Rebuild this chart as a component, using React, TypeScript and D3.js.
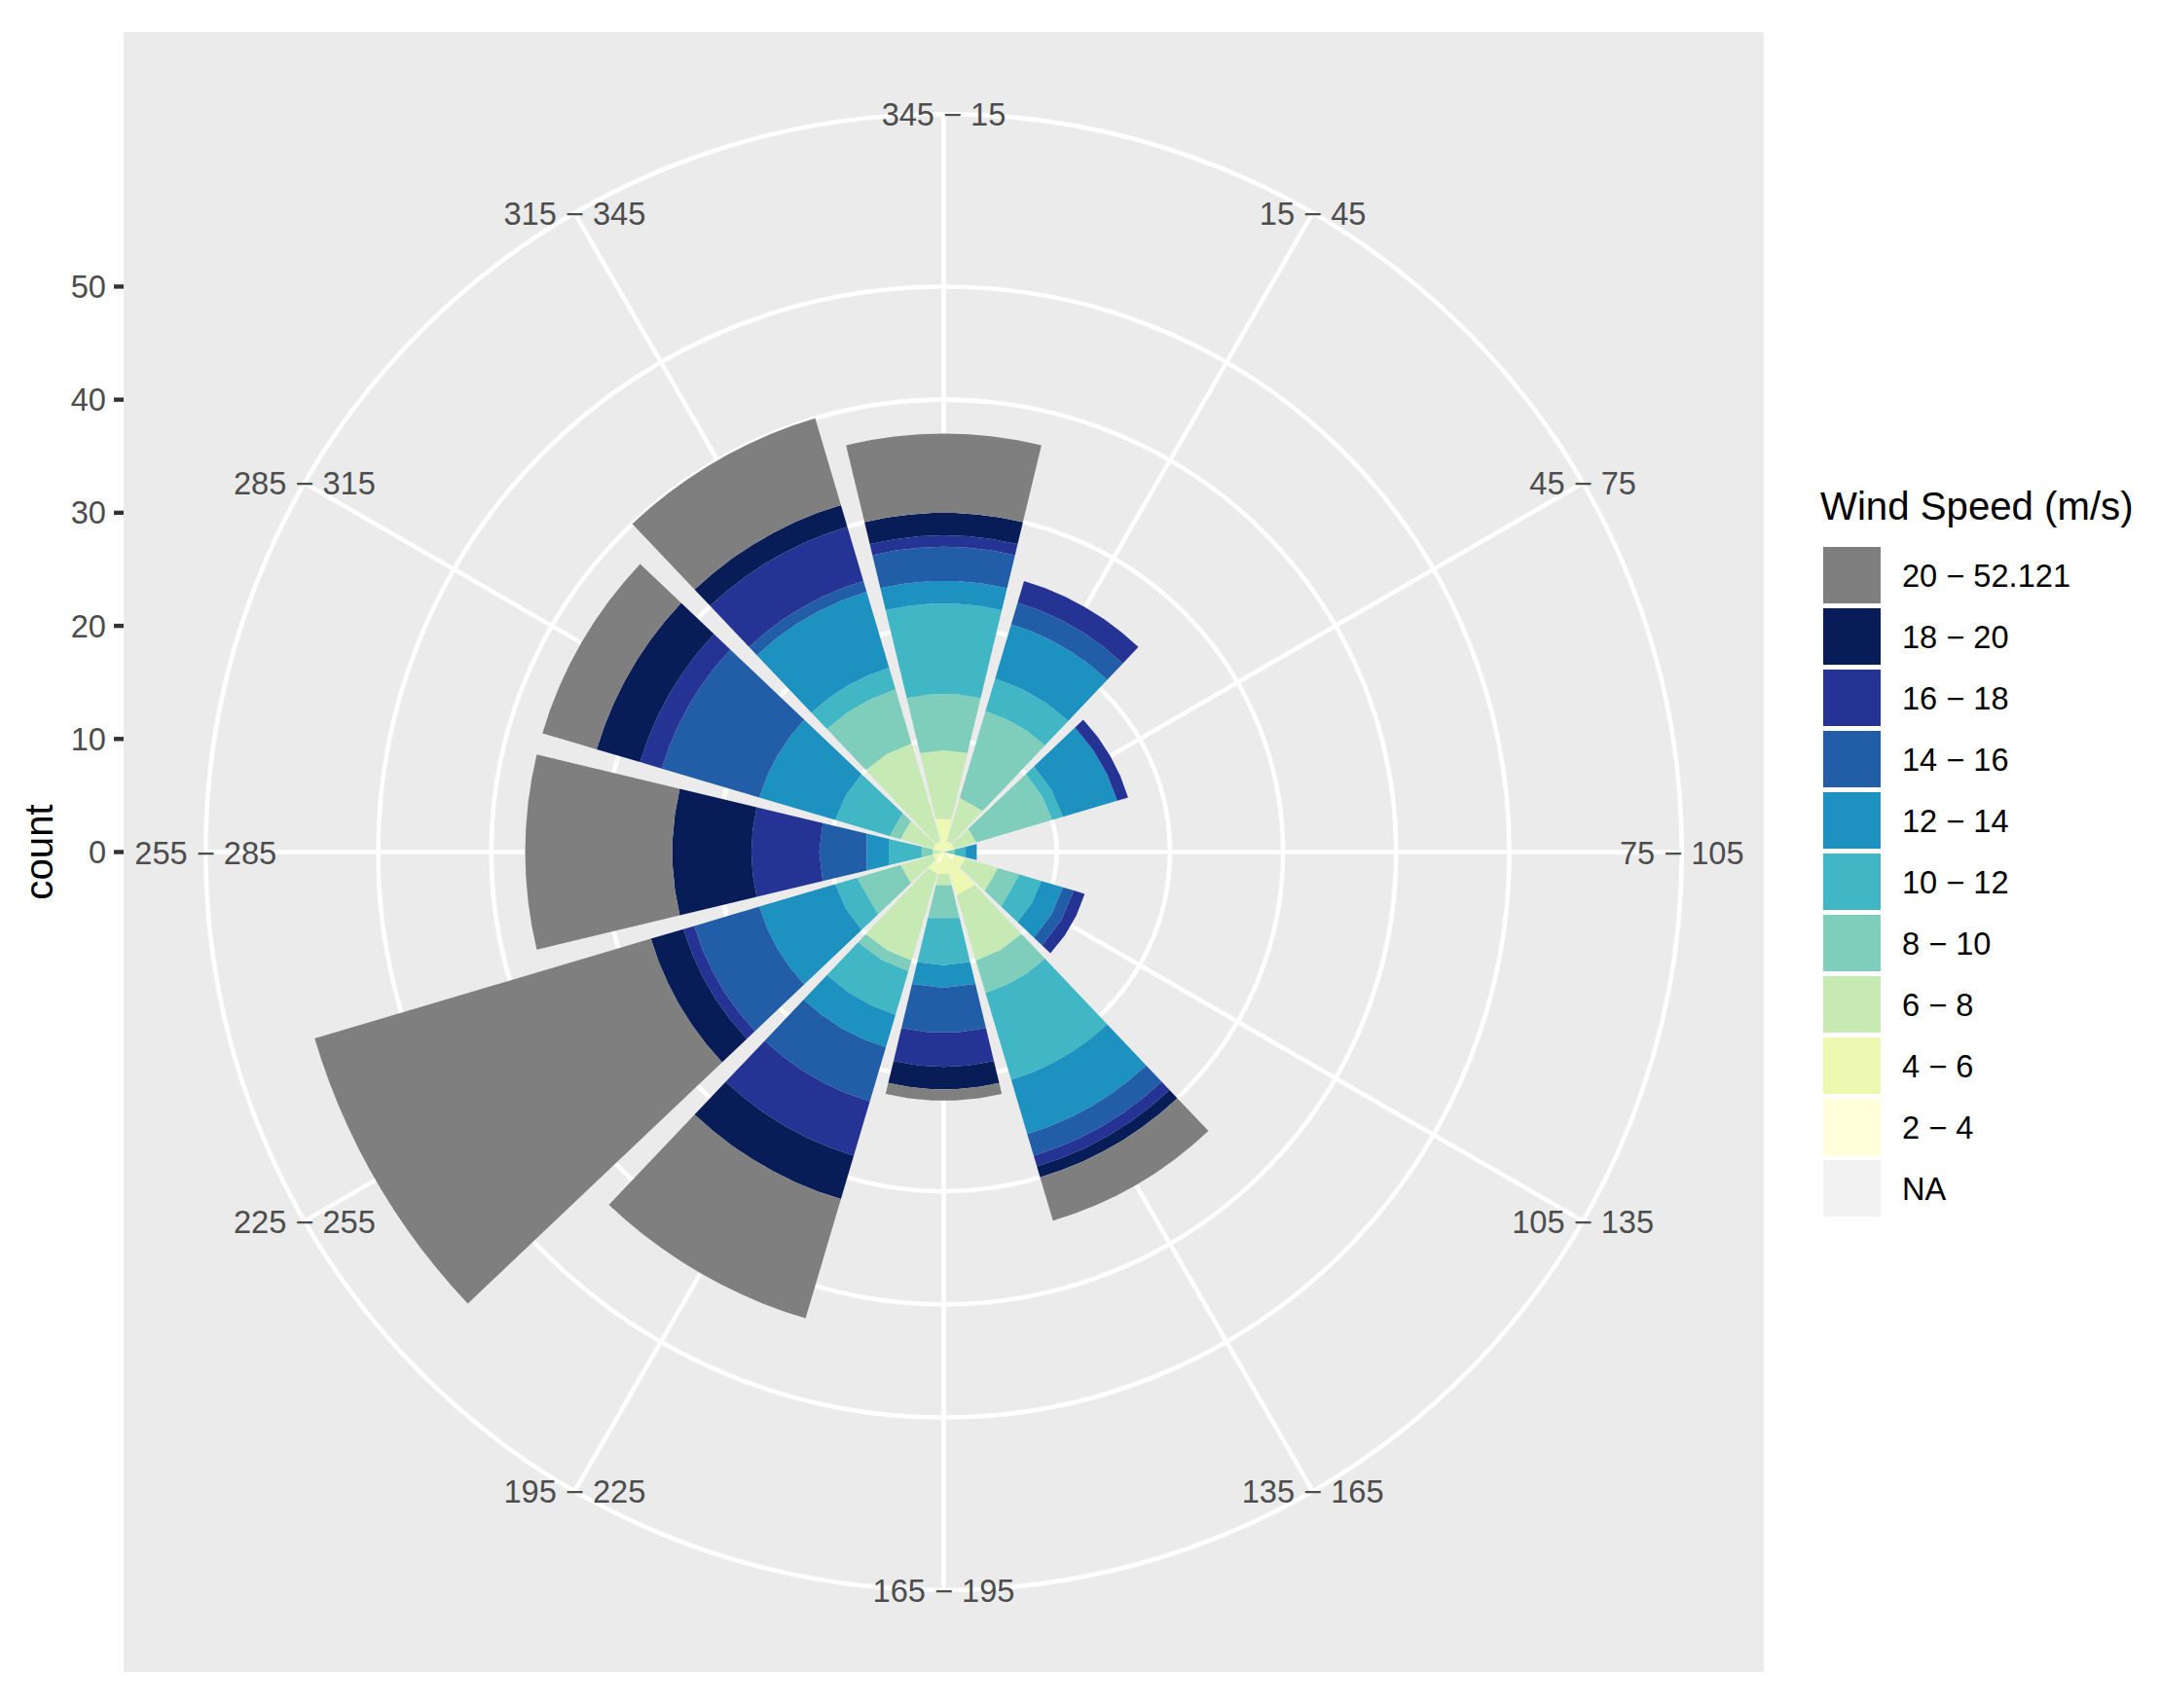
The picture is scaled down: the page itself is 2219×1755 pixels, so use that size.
import * as d3 from 'd3';

const width = 2219;
const height = 1755;

const directions = ['345 − 15', '15 − 45', '45 − 75', '75 − 105', '105 − 135', '135 − 165', '165 − 195', '195 − 225', '225 − 255', '255 − 285', '285 − 315', '315 − 345'];

// counts per direction, from the centre of the rose outwards
const speed2to4 = [0, 0, 0, 0, 1, 0, 0, 1, 0, 0, 0, 0];
const speed4to6 = [3, 1, 1, 0, 1, 4, 2, 1, 1, 0, 1, 1];
const speed6to8 = [6, 4, 2, 0, 3, 6, 1, 8, 3, 1, 3, 9];
const speed8to10 = [5, 8, 7, 1, 2, 3, 3, 1, 4, 1, 1, 5];
const speed10to12 = [8, 3, 1, 1, 2, 8, 4, 4, 2, 3, 5, 2];
const speed12to14 = [2, 5, 5, 1, 2, 5, 2, 3, 7, 2, 7, 7];
const speed14to16 = [3, 2, 0, 0, 1, 2, 4, 5, 6, 4, 9, 1];
const speed16to18 = [1, 2, 1, 0, 1, 1, 3, 5, 1, 6, 2, 5];
const speed18to20 = [2, 0, 0, 0, 0, 1, 2, 4, 3, 7, 4, 2];
const speed20up = [7, 0, 0, 0, 0, 4, 1, 11, 31, 13, 5, 8];

const speedSeries = [speed2to4, speed4to6, speed6to8, speed8to10, speed10to12, speed12to14, speed14to16, speed16to18, speed18to20, speed20up];
const speedKeys = ['2 − 4', '4 − 6', '6 − 8', '8 − 10', '10 − 12', '12 − 14', '14 − 16', '16 − 18', '18 − 20', '20 − 52.121'];
const speedColors = ['#ffffd9', '#edf8b1', '#c7e9b4', '#7fcdbb', '#41b6c4', '#1d91c0', '#225ea8', '#253494', '#081d58', '#7f7f7f'];

const legendLabels = ['20 − 52.121', '18 − 20', '16 − 18', '14 − 16', '12 − 14', '10 − 12', '8 − 10', '6 − 8', '4 − 6', '2 − 4', 'NA'];
const legendColors = ['#7f7f7f', '#081d58', '#253494', '#225ea8', '#1d91c0', '#41b6c4', '#7fcdbb', '#c7e9b4', '#edf8b1', '#ffffd9', '#f2f2f2'];

const countTicks = [0, 10, 20, 30, 40, 50];
const maxCount = 58;

const panel = { left: 127, right: 1812, top: 33, bottom: 1718 };
const cx = (panel.left + panel.right) / 2;
const cy = (panel.top + panel.bottom) / 2;
const side = panel.right - panel.left;

const r = d3.scaleLinear().domain([0, maxCount]).range([0, side * 0.4]);
const outerRing = side * 0.45;

// bars take 27 of the 30 degrees, first one centred on north
const theta = d3.scaleBand<string>()
  .domain(directions)
  .range([-15, 345])
  .paddingInner(0.1)
  .paddingOuter(0.05);

const rows = directions.map((_, i) => {
  const row: Record<string, number> = {};
  speedKeys.forEach((k, j) => { row[k] = speedSeries[j][i]; });
  return row;
});
const stacked = d3.stack<Record<string, number>>().keys(speedKeys)(rows);

const SPIRAL = 3.383;
const GRID_WIDTH = 4.6;
const rad = (deg: number) => (deg * Math.PI) / 180;

// arcs are chopped into straight pieces, few of them close to the centre
function arcPoints(count: number, a0: number, a1: number) {
  const span = rad(a1 - a0);
  const n = Math.max(Math.floor(((count / maxCount) * span) / SPIRAL / 0.01), 1);
  return d3.range(n + 1).map(i => [a0 + ((a1 - a0) * i) / n, count] as [number, number]);
}

const wedge = d3.lineRadial<[number, number]>()
  .angle(d => rad(d[0]))
  .radius(d => r(d[1]))
  .curve(d3.curveLinearClosed);

function bandPath(dir: string, y0: number, y1: number) {
  const a0 = theta(dir) as number;
  const a1 = a0 + theta.bandwidth();
  return wedge([...arcPoints(y1, a0, a1), ...arcPoints(y0, a0, a1).reverse()]) as string;
}

const polar = (deg: number, radius: number) => [
  cx + radius * Math.sin(rad(deg)),
  cy - radius * Math.cos(rad(deg)),
];

const font = '"Liberation Sans", Arial, sans-serif';

export default function App() {
  const centres = directions.map(d => (theta(d) as number) + theta.bandwidth() / 2);
  return (
    <svg
      width={width}
      height={height}
      viewBox={`0 0 ${width} ${height}`}
      style={{ position: 'absolute', left: 0, top: 0, background: '#fff' }}
      fontFamily={font}
    >
      <rect x={panel.left} y={panel.top} width={side} height={panel.bottom - panel.top} fill="#ebebeb" />

      {/* grid */}
      {countTicks.slice(1).map(t => (
        <circle key={t} cx={cx} cy={cy} r={r(t)} fill="none" stroke="#fff" strokeWidth={GRID_WIDTH} />
      ))}
      <circle cx={cx} cy={cy} r={outerRing} fill="none" stroke="#fff" strokeWidth={GRID_WIDTH} />
      {centres.map(a => {
        const [x, y] = polar(a, outerRing);
        return <line key={a} x1={cx} y1={cy} x2={x} y2={y} stroke="#fff" strokeWidth={GRID_WIDTH} />;
      })}

      {/* bars */}
      <g transform={`translate(${cx},${cy})`}>
        {stacked.map((layer, j) =>
          layer.map((seg, i) =>
            seg[1] > seg[0] ? (
              <path key={`${j}-${i}`} d={bandPath(directions[i], seg[0], seg[1])} fill={speedColors[j]} />
            ) : null
          )
        )}
      </g>

      {/* direction labels */}
      {directions.map((d, i) => {
        const [x, y] = polar(centres[i], outerRing);
        return (
          <text key={d} x={x} y={y + 12} textAnchor="middle" fontSize={32.6} fill="#4d4d4d">{d}</text>
        );
      })}

      {/* count axis */}
      {countTicks.map(t => (
        <g key={t}>
          <line x1={117} x2={panel.left} y1={cy - r(t)} y2={cy - r(t)} stroke="#333" strokeWidth={4.4} />
          <text x={109} y={cy - r(t) + 11.5} textAnchor="end" fontSize={32.6} fill="#4d4d4d">{t}</text>
        </g>
      ))}
      <text transform={`translate(54,${cy}) rotate(-90)`} textAnchor="middle" fontSize={40.2} fill="#000">count</text>

      {/* legend */}
      <text x={1870} y={534} fontSize={40.2} fill="#000">Wind Speed (m/s)</text>
      {legendLabels.map((label, i) => (
        <g key={label} transform={`translate(1873,${562 + i * 63})`}>
          <rect width={59} height={58} fill={legendColors[i]} />
          <text x={81} y={40.5} fontSize={32.6} fill="#000">{label}</text>
        </g>
      ))}
    </svg>
  );
}
